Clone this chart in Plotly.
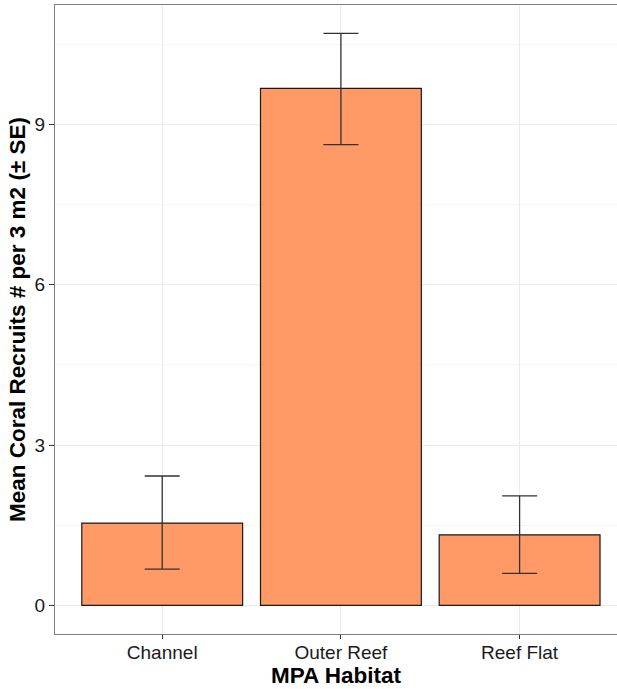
import plotly.graph_objects as go

habitats = ["Channel", "Outer Reef", "Reef Flat"]
mean_recruits = [1.54, 9.67, 1.32]
se_upper = [0.88, 1.03, 0.73]
se_lower = [0.86, 1.05, 0.72]
y_ticks = [0, 3, 6, 9]

fig = go.Figure()
fig.add_trace(go.Bar(
    x=[1, 2, 3], y=mean_recruits,
    width=0.9,
    marker=dict(color="#FF9966", line=dict(color="#1a1a1a", width=1.2)),
    error_y=dict(type="data", symmetric=False, array=se_upper, arrayminus=se_lower,
                 color="#333333", thickness=1.3, width=17.5),
    showlegend=False,
))

fig.update_layout(
    width=617, height=689,
    margin=dict(l=55, r=0, t=5, b=55),
    plot_bgcolor="white", paper_bgcolor="white",
    font=dict(family="Liberation Sans, Arial, sans-serif", color="#1a1a1a"),
    bargap=0.1,
)
fig.update_xaxes(
    range=[0.4, 3.545],
    tickvals=[1, 2, 3], ticktext=habitats,
    tickfont=dict(size=19, color="#1a1a1a"),
    ticks="outside", ticklen=4, tickcolor="#333333",
    ticklabelstandoff=-3,
    showgrid=True, gridcolor="#EBEBEB", gridwidth=1,
    showline=True, linecolor="#7f7f7f", linewidth=1.2, mirror=True,
    zeroline=False,
    title=dict(text="<b>MPA Habitat</b>", font=dict(size=22.5, color="black"), standoff=3),
)
fig.update_yaxes(
    range=[-0.535, 11.23],
    tickvals=y_ticks, ticktext=[str(v) for v in y_ticks],
    tickfont=dict(size=19, color="#1a1a1a"),
    ticks="outside", ticklen=5, tickcolor="#333333",
    showgrid=True, gridcolor="#EBEBEB", gridwidth=1,
    minor=dict(dtick=1.5, tick0=0, showgrid=True, gridcolor="#F5F5F5", gridwidth=0.8),
    showline=True, linecolor="#7f7f7f", linewidth=1.2,
    zeroline=False,
    title=dict(text="<b>Mean Coral Recruits # per 3 m2 (± SE)</b>", font=dict(size=22.5, color="black"), standoff=2),
)

fig.write_html("out.html", config={"displayModeBar": False},
               post_script="document.body.style.margin='0';document.body.style.overflow='hidden';")
